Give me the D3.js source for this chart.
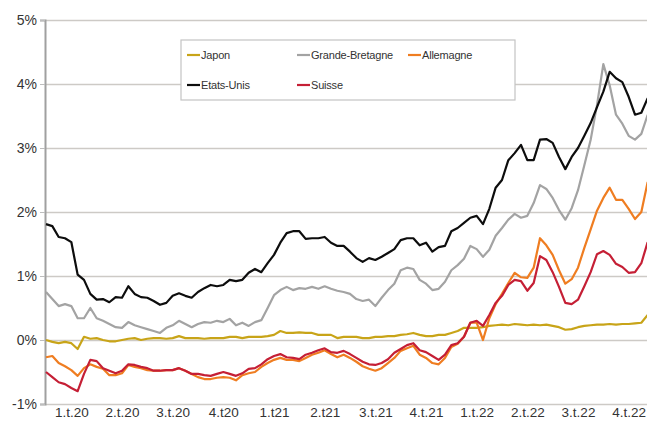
<!DOCTYPE html>
<html>
<head>
<meta charset="utf-8">
<script src="https://cdn.jsdelivr.net/npm/d3@7"></script>
<style>
  body { margin: 0; background: #fff; }
  svg { display: block; }
</style>
</head>
<body>
<svg width="647" height="421"></svg>
<script>
// quarter labels as printed on the original chart
const quarters = ["1.t.20","2.t.20","3.t.20","4.t20","1.t21","2.t21","3.t.21","4.t.21","1.t.22","2.t.22","3.t.22","4.t.22"];
const perQuarter = 8; // readings per quarter
const yTicks = [-1, 0, 1, 2, 3, 4, 5];

// 10-year yields, %
const japon = [0.00,-0.03,-0.05,-0.03,-0.05,-0.14,0.05,0.02,0.03,0.00,
  -0.02,-0.02,0.00,0.02,0.03,0.00,0.02,0.03,0.03,0.02,
  0.03,0.06,0.03,0.03,0.03,0.02,0.03,0.03,0.03,0.05,
  0.05,0.03,0.05,0.05,0.05,0.06,0.08,0.14,0.11,0.11,
  0.12,0.11,0.11,0.08,0.08,0.08,0.03,0.05,0.05,0.05,
  0.03,0.03,0.05,0.05,0.06,0.06,0.08,0.09,0.11,0.08,
  0.06,0.06,0.08,0.08,0.11,0.14,0.19,0.19,0.19,0.20,
  0.22,0.23,0.24,0.23,0.25,0.24,0.23,0.24,0.23,0.24,
  0.22,0.20,0.16,0.17,0.20,0.22,0.23,0.24,0.24,0.25,
  0.24,0.25,0.25,0.26,0.27,0.39];

const grandeBretagne = [0.75,0.64,0.53,0.56,0.53,0.34,0.34,0.50,0.34,0.30,
  0.25,0.20,0.19,0.28,0.23,0.20,0.17,0.14,0.11,0.19,
  0.23,0.30,0.25,0.20,0.25,0.28,0.27,0.30,0.28,0.33,
  0.23,0.27,0.22,0.28,0.31,0.50,0.70,0.78,0.83,0.78,
  0.81,0.80,0.83,0.80,0.84,0.80,0.77,0.75,0.72,0.64,
  0.61,0.63,0.53,0.66,0.78,0.88,1.09,1.13,1.11,0.94,
  0.88,0.78,0.80,0.91,1.09,1.17,1.27,1.47,1.42,1.30,
  1.41,1.63,1.75,1.88,1.97,1.91,1.94,2.14,2.42,2.36,
  2.22,2.03,1.88,2.06,2.34,2.73,3.13,3.67,4.31,3.98,
  3.52,3.38,3.19,3.13,3.22,3.52];

const allemagne = [-0.27,-0.25,-0.36,-0.41,-0.47,-0.56,-0.44,-0.38,-0.42,-0.45,
  -0.55,-0.55,-0.52,-0.39,-0.42,-0.44,-0.47,-0.48,-0.48,-0.47,
  -0.47,-0.44,-0.48,-0.53,-0.58,-0.61,-0.61,-0.59,-0.58,-0.59,
  -0.63,-0.55,-0.52,-0.50,-0.42,-0.36,-0.31,-0.28,-0.31,-0.31,
  -0.33,-0.28,-0.23,-0.20,-0.16,-0.22,-0.27,-0.23,-0.28,-0.34,
  -0.41,-0.45,-0.48,-0.44,-0.36,-0.28,-0.17,-0.13,-0.09,-0.23,
  -0.28,-0.36,-0.38,-0.28,-0.11,-0.06,0.05,0.27,0.27,0.00,
  0.34,0.56,0.72,0.89,1.05,0.98,0.97,1.13,1.59,1.48,
  1.33,1.09,0.88,0.95,1.13,1.44,1.73,2.02,2.22,2.38,
  2.19,2.19,2.05,1.89,2.00,2.47];

const etatsUnis = [1.81,1.78,1.61,1.59,1.53,1.02,0.94,0.72,0.63,0.64,
  0.59,0.67,0.66,0.84,0.72,0.67,0.66,0.61,0.55,0.58,
  0.69,0.73,0.69,0.66,0.75,0.81,0.86,0.84,0.86,0.94,
  0.92,0.94,1.05,1.11,1.06,1.20,1.33,1.52,1.67,1.70,
  1.70,1.58,1.59,1.59,1.61,1.52,1.47,1.47,1.38,1.28,
  1.22,1.28,1.25,1.30,1.36,1.42,1.56,1.59,1.59,1.48,
  1.52,1.38,1.45,1.47,1.70,1.75,1.83,1.91,1.94,1.81,
  2.05,2.38,2.50,2.81,2.92,3.05,2.81,2.81,3.13,3.14,
  3.08,2.86,2.67,2.86,3.00,3.19,3.39,3.64,3.88,4.19,
  4.09,4.03,3.80,3.52,3.55,3.78];

const suisse = [-0.50,-0.58,-0.66,-0.69,-0.75,-0.80,-0.53,-0.31,-0.33,-0.44,
  -0.48,-0.52,-0.48,-0.38,-0.39,-0.42,-0.44,-0.48,-0.48,-0.47,
  -0.47,-0.44,-0.48,-0.53,-0.53,-0.55,-0.56,-0.53,-0.50,-0.53,
  -0.56,-0.52,-0.45,-0.44,-0.38,-0.30,-0.25,-0.22,-0.27,-0.28,
  -0.30,-0.23,-0.20,-0.16,-0.13,-0.19,-0.20,-0.17,-0.22,-0.28,
  -0.34,-0.38,-0.39,-0.36,-0.30,-0.20,-0.14,-0.08,-0.05,-0.16,
  -0.19,-0.25,-0.31,-0.23,-0.08,-0.05,0.05,0.27,0.30,0.22,
  0.39,0.58,0.69,0.86,0.94,0.92,0.77,0.89,1.31,1.25,
  1.06,0.83,0.58,0.56,0.63,0.84,1.06,1.34,1.39,1.33,
  1.19,1.14,1.05,1.06,1.20,1.53];

const series = [
  { name: "Japon", values: japon, color: "#c8a418", col: 0, row: 0 },
  { name: "Grande-Bretagne", values: grandeBretagne, color: "#a3a3a3", col: 1, row: 0 },
  { name: "Allemagne", values: allemagne, color: "#ef7d21", col: 2, row: 0 },
  { name: "Suisse", values: suisse, color: "#c51f35", col: 1, row: 1 },
  { name: "Etats-Unis", values: etatsUnis, color: "#0d0d0d", col: 0, row: 1 }
];

const svg = d3.select("svg");
const width = +svg.attr("width");
const left = 45;

const x = d3.scaleLinear().domain([0, quarters.length]).range([46, 654]);
const y = d3.scaleLinear().domain([-1, 5]).range([404, 20]);

// gridlines
svg.append("g")
  .attr("transform", `translate(${left},0)`)
  .call(d3.axisLeft(y).tickValues(yTicks).tickSize(-(width - left)).tickFormat(""))
  .call(g => g.select(".domain").remove())
  .call(g => g.selectAll("line").attr("stroke", "#cdcac6").attr("stroke-width", 1.3));

// y axis with labels
svg.append("g")
  .attr("transform", `translate(${left},0)`)
  .call(d3.axisLeft(y).tickValues(yTicks).tickSize(5).tickPadding(3).tickFormat(d => d + "%"))
  .call(g => g.select(".domain").attr("stroke", "#a0a0a0").attr("stroke-width", 2))
  .call(g => g.selectAll("line").attr("stroke", "#bdbdbd"))
  .call(g => g.selectAll("text")
    .attr("font-family", "Liberation Sans, Arial, sans-serif")
    .attr("font-size", 14).attr("fill", "#333"));

// x axis labels, centred in each quarter
svg.append("g")
  .attr("transform", `translate(0,${y(-1)})`)
  .call(d3.axisBottom(x).tickValues(quarters.map((q, i) => i + 0.5))
    .tickSize(0).tickPadding(3).tickFormat((d, i) => quarters[i]))
  .call(g => g.select(".domain").remove())
  .call(g => g.selectAll("text")
    .attr("font-family", "Liberation Sans, Arial, sans-serif")
    .attr("font-size", 13.5).attr("fill", "#333"));

// legend box
const legend = svg.append("g");
legend.append("rect")
  .attr("x", 181).attr("y", 40).attr("width", 334).attr("height", 60)
  .attr("fill", "#fff").attr("stroke", "#c4c4c4").attr("stroke-width", 1.2);

const colX = [187, 297, 408];
const rowY = [55, 85];
const item = legend.selectAll("g.item").data(series).join("g")
  .attr("class", "item")
  .attr("transform", d => `translate(${colX[d.col]},${rowY[d.row]})`);
item.append("line")
  .attr("x1", 0).attr("x2", 13).attr("y1", 0).attr("y2", 0)
  .attr("stroke", d => d.color).attr("stroke-width", 2.2);
item.append("text")
  .attr("x", 14).attr("y", 4)
  .attr("font-family", "Liberation Sans, Arial, sans-serif")
  .attr("font-size", 11).attr("letter-spacing", -0.2).attr("fill", "#333")
  .text(d => d.name);

// series lines
const line = d3.line()
  .x((d, i) => x(i / perQuarter))
  .y(d => y(d));

svg.append("g").selectAll("path").data(series).join("path")
  .attr("d", d => line(d.values))
  .attr("fill", "none")
  .attr("stroke", d => d.color)
  .attr("stroke-width", 2.2)
  .attr("stroke-linejoin", "round");
</script>
</body>
</html>
